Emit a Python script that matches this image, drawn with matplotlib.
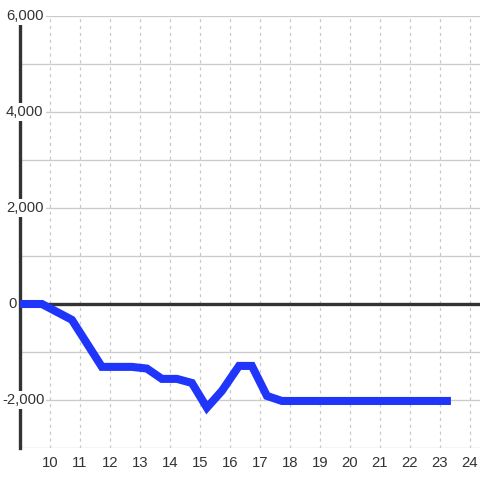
import matplotlib
matplotlib.use("Agg")
import matplotlib.pyplot as plt
import matplotlib.transforms as mtransforms

hours = [9.0, 9.73, 10.73, 11.73, 12.73, 13.23, 13.73, 14.23, 14.73, 15.23,
         15.73, 16.3, 16.73, 17.23, 17.73, 23.23]
values = [0, 0, -330, -1310, -1310, -1345, -1560, -1560, -1645, -2160,
          -1810, -1290, -1290, -1915, -2020, -2020]
x_ticks = list(range(10, 25))
y_ticks = [-2000, 0, 2000, 4000, 6000]
y_grid = list(range(-3000, 7000, 1000))

plt.rcParams['font.family'] = ['Liberation Sans', 'DejaVu Sans']

fig = plt.figure(figsize=(4.8, 4.8), dpi=100)
ax = fig.add_axes([20/480, 32/480, 460/480, 432/480])
ax.set_xlim(9.0, 9.0 + 460/30)
ax.set_ylim(-3000, 6000)

for s in ['top', 'right', 'bottom']:
    ax.spines[s].set_visible(False)
ax.spines['left'].set_color('#333333')
ax.spines['left'].set_linewidth(2.4)
ax.spines['left'].set_zorder(1)

for y in y_grid:
    ax.axhline(y, color='#cccccc', lw=1.0, zorder=0)
for x in x_ticks:
    ax.axvline(x, color='#c8c8c8', lw=0.9, ls=(0, (2.5, 3)), zorder=0)

ax.axhline(0, color='#333333', lw=2.4, zorder=2)

ax.plot(hours, values, color='#2035fa', lw=5.8, solid_joinstyle='miter',
        solid_capstyle='projecting', zorder=4)

ax.set_xticks(x_ticks)
ax.set_xticklabels([str(t) for t in x_ticks])
ax.set_yticks([])
ax.tick_params(axis='x', length=0, pad=6, labelsize=10.7, labelcolor='#333333')

for y in y_ticks:
    dx = -18 if y < 0 else (-12 if y == 0 else -14)
    trans = mtransforms.offset_copy(ax.transData, fig=fig, x=dx, y=0, units='dots')
    ax.text(9.0, y, f"{y:,}", transform=trans, ha='left', va='center',
            fontsize=10.7, color='#333333', zorder=5, clip_on=False,
            bbox=dict(facecolor='white', edgecolor='none', pad=1.5))

fig.savefig('out.png', dpi=100, facecolor='white')
